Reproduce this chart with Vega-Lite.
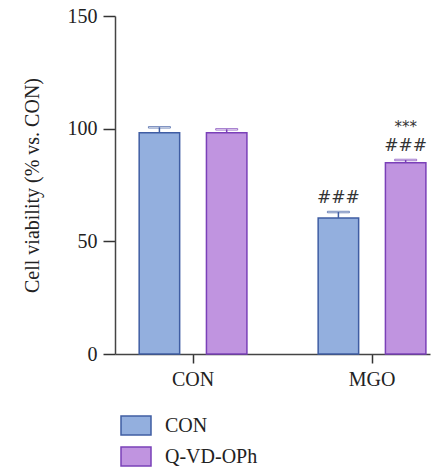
{
  "$schema": "https://vega.github.io/schema/vega-lite/v6.json",
  "autosize": "none",
  "width": 315,
  "height": 338,
  "padding": {"left": 115, "top": 16, "right": 8, "bottom": 114},
  "background": "white",
  "config": {
    "font": "Liberation Serif",
    "view": {"stroke": null},
    "axis": {"grid": false, "domainColor": "#444444", "domainWidth": 1.5, "tickColor": "#333333", "tickWidth": 1.5, "labelColor": "#222222", "titleColor": "#222222", "labelFontSize": 20, "titleFontSize": 20, "titleFontWeight": "normal", "labelFont": "Liberation Serif", "titleFont": "Liberation Serif"}
  },
  "data": {
    "values": [
      {"group": "CON", "treatment": "CON", "value": 98.2, "upper": 100.6, "hash": null, "star": null},
      {"group": "CON", "treatment": "Q-VD-OPh", "value": 98.2, "upper": 99.7, "hash": null, "star": null},
      {"group": "MGO", "treatment": "CON", "value": 60.4, "upper": 63.0, "hash": "###", "star": null},
      {"group": "MGO", "treatment": "Q-VD-OPh", "value": 84.9, "upper": 86.1, "hash": "###", "star": "***"}
    ]
  },
  "encoding": {
    "x": {
      "field": "group", "type": "nominal", "sort": ["CON", "MGO"],
      "scale": {"paddingInner": 0.398, "paddingOuter": 0.079, "align": 0.855},
      "axis": {"title": null, "labelAngle": 0, "tickSize": 9, "labelPadding": 6}
    },
    "xOffset": {
      "field": "treatment", "type": "nominal", "sort": ["CON", "Q-VD-OPh"],
      "scale": {"paddingInner": 0.398, "paddingOuter": 0}
    }
  },
  "layer": [
    {
      "mark": {"type": "bar", "strokeWidth": 1.5},
      "encoding": {
        "y": {
          "field": "value", "type": "quantitative",
          "scale": {"domain": [0, 150], "nice": false, "zero": true},
          "axis": {"values": [0, 50, 100, 150], "tickSize": 12, "labelPadding": 6, "title": "Cell viability (% vs. CON)", "titlePadding": 25}
        },
        "fill": {
          "field": "treatment", "type": "nominal",
          "scale": {"domain": ["CON", "Q-VD-OPh"], "range": ["#93AFDE", "#C094E0"]},
          "legend": {"title": null, "orient": "none", "legendX": 5, "legendY": 393.5, "padding": 0, "symbolType": "M-1,-0.63H1V0.63H-1Z", "symbolSize": 900, "symbolStrokeWidth": 1.5, "labelFontSize": 20, "labelFont": "Liberation Serif", "labelColor": "#222222", "labelOffset": 13, "rowPadding": 2, "symbolOpacity": 1}
        },
        "stroke": {
          "field": "treatment", "type": "nominal",
          "scale": {"domain": ["CON", "Q-VD-OPh"], "range": ["#3F5DA3", "#7A40B8"]},
          "legend": {"title": null, "orient": "none", "legendX": 5, "legendY": 393.5, "padding": 0, "symbolType": "M-1,-0.63H1V0.63H-1Z", "symbolSize": 900, "symbolStrokeWidth": 1.5, "labelFontSize": 20, "labelFont": "Liberation Serif", "labelColor": "#222222", "labelOffset": 13, "rowPadding": 2, "symbolOpacity": 1}
        }
      }
    },
    {
      "mark": {"type": "rule", "strokeWidth": 1.5},
      "encoding": {
        "y": {"field": "value", "type": "quantitative"},
        "y2": {"field": "upper"},
        "stroke": {"field": "treatment", "type": "nominal"}
      }
    },
    {
      "mark": {"type": "tick", "size": 22, "thickness": 1.5, "orient": "horizontal"},
      "encoding": {
        "y": {"field": "upper", "type": "quantitative"},
        "stroke": {"field": "treatment", "type": "nominal"},
        "color": {"value": null}
      }
    },
    {
      "transform": [{"filter": "datum.hash != null"}],
      "mark": {"type": "text", "font": "DejaVu Sans", "fontSize": 17, "baseline": "bottom", "dy": -5, "color": "#333333"},
      "encoding": {
        "y": {"field": "upper", "type": "quantitative"},
        "text": {"field": "hash"}
      }
    },
    {
      "transform": [{"filter": "datum.star != null"}],
      "mark": {"type": "text", "font": "DejaVu Sans", "fontSize": 15, "baseline": "bottom", "dy": -25, "color": "#333333"},
      "encoding": {
        "y": {"field": "upper", "type": "quantitative"},
        "text": {"field": "star"}
      }
    }
  ]
}
